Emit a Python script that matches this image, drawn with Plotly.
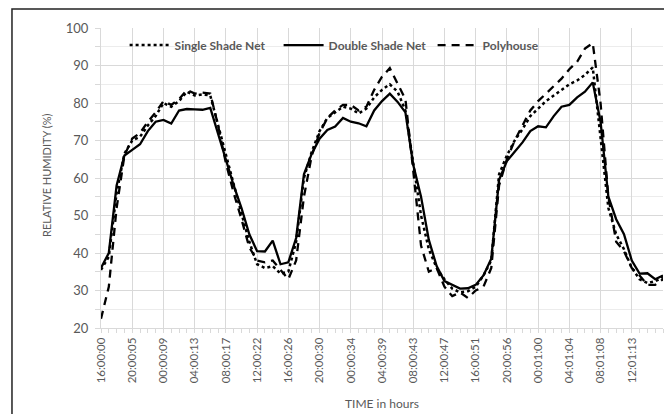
import plotly.graph_objects as go

hours = list(range(0, 73))

tick_hours = [0, 4, 8, 12, 16, 20, 24, 28, 32, 36, 40, 44, 48, 52, 56, 60, 64, 68]
tick_labels = ["16:00:00", "20:00:05", "00:00:09", "04:00:13", "08:00:17", "12:00:22",
               "16:00:26", "20:00:30", "00:00:34", "04:00:39", "08:00:43", "12:00:47",
               "16:00:51", "20:00:56", "00:01:00", "04:01:04", "08:01:08", "12:01:13"]

single_shade = [35.5, 39, 56, 66.5, 70, 71, 74, 76.5, 80, 79, 80.5, 83, 82, 82.3, 82, 74,
                66, 58, 50.5, 43, 37, 36, 36.5, 34.5, 35, 43, 60, 67, 72.5, 76, 77.5, 79,
                78.5, 77.2, 78.5, 81.5, 83.5, 85, 83, 78, 64, 50, 41, 36, 33, 30.5, 29.5, 29.8,
                31, 34, 38, 61, 66, 70, 73, 76.5, 78.5, 80.5, 82, 83.5, 85, 86, 87.5, 89.5,
                70, 52, 45, 41, 36, 33, 32, 32.5, 33.5]

double_shade = [36, 40, 58, 66, 67.5, 69, 72.5, 75, 75.5, 74.5, 78, 78.4, 78.3, 78.2, 78.7, 72,
                65, 58, 52, 45, 40.5, 40.4, 43.3, 37, 37.5, 44, 61, 66.5, 70.5, 72.8, 73.7, 76,
                75, 74.6, 73.8, 78, 80.5, 82.5, 80.3, 77.5, 63.5, 55, 43.5, 36.5, 32.5, 31.5, 30.5, 30.6,
                31.5, 34, 38.5, 59.5, 64.5, 67, 69.5, 72.5, 73.8, 73.5, 76.5, 79, 79.5, 81.5, 83, 85.5,
                75, 55, 49, 45, 38, 34.5, 34.6, 33, 34]

polyhouse = [22.5, 31, 52, 66, 70.5, 72, 75, 77.5, 80.5, 79.5, 81, 83.5, 82.5, 82.8, 82.5, 74,
             64, 56, 49, 41.5, 38, 37.5, 38, 35.5, 33, 38, 55, 66, 72, 76, 78, 79.5,
             79.5, 78, 79, 83.5, 87, 89.3, 85, 81, 62, 42, 35, 36, 31, 28.5, 29.5, 28,
             30, 31, 36, 58, 65, 70, 74, 78, 80.5, 82.5, 84.5, 86.5, 89, 91, 94.5, 96,
             80, 55, 43, 40.5, 36, 34, 31.5, 31.5, 33]

FONT = "Lato, 'Open Sans', sans-serif"
GREY = "#595959"
GRID = "#d9d9d9"

fig = go.Figure()
fig.add_trace(go.Scatter(x=hours, y=single_shade, mode="lines", name="Single Shade Net",
                         line=dict(color="black", width=2.5, dash="dot")))
fig.add_trace(go.Scatter(x=hours, y=double_shade, mode="lines", name="Double Shade Net",
                         line=dict(color="black", width=2.3, dash="solid")))
fig.add_trace(go.Scatter(x=hours, y=polyhouse, mode="lines", name="Polyhouse",
                         line=dict(color="black", width=2.3, dash="8px,6px")))

fig.update_layout(
    width=664, height=406,
    margin=dict(l=93, r=9, t=20, b=86),
    paper_bgcolor="white", plot_bgcolor="white",
    font=dict(family=FONT, color=GREY, size=12),
    showlegend=True,
    legend=dict(orientation="h", x=0.042, y=0.943, xanchor="left", yanchor="middle",
                bgcolor="rgba(0,0,0,0)", font=dict(size=12, color=GREY, family=FONT, weight="bold"),
                itemwidth=40, entrywidth=99, entrywidthmode="pixels", tracegroupgap=0),
    xaxis=dict(range=[0, 72], tickmode="array", tickvals=tick_hours, ticktext=tick_labels,
               tickangle=-90, tickfont=dict(size=11.5, color=GREY),
               showgrid=True, gridcolor=GRID, gridwidth=1,
               showline=True, linecolor=GRID, linewidth=1,
               ticks="outside", ticklen=4, tickcolor=GRID,
               minor=dict(dtick=1, tick0=0, ticks="outside", ticklen=4, tickcolor=GRID, showgrid=False),
               zeroline=False),
    yaxis=dict(range=[20, 100], dtick=10, tick0=20, tickfont=dict(size=13, color=GREY),
               showgrid=True, gridcolor=GRID, gridwidth=1,
               showline=True, linecolor=GRID, linewidth=1,
               ticks="outside", ticklen=5, tickcolor=GRID, ticklabelstandoff=4,
               minor=dict(dtick=5, showgrid=True, gridcolor="#ececec", ticks="outside",
                          ticklen=5, tickcolor=GRID),
               zeroline=False),
    annotations=[
        dict(text="RELATIVE HUMIDITY (%)", xref="paper", yref="paper", x=-0.098, y=0.51,
             textangle=-90, showarrow=False, font=dict(size=11, color=GREY, family=FONT),
             xanchor="center", yanchor="middle"),
        dict(text="TIME in hours", xref="paper", yref="paper", x=0.5, y=-0.253,
             showarrow=False, font=dict(size=12, color=GREY, family=FONT),
             xanchor="center", yanchor="middle"),
    ],
    shapes=[dict(type="rect", xref="paper", yref="paper", x0=-0.1584, x1=1.0107,
                 y0=-0.30, y1=1.063, line=dict(color="#222222", width=1.5),
                 fillcolor="rgba(0,0,0,0)", layer="below")],
)

fig.write_html("out.html")
